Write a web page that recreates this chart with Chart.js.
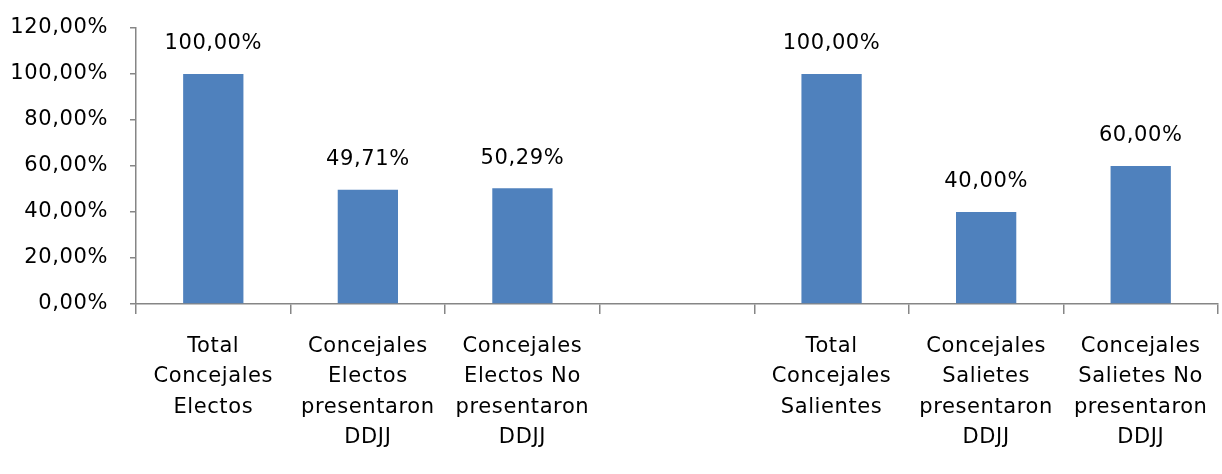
<!DOCTYPE html>
<html><head><meta charset="utf-8">
<script src="https://cdn.jsdelivr.net/npm/chart.js@4/dist/chart.umd.min.js"></script>
<style>html,body{margin:0;padding:0;background:#fff}#wrap{width:1222px;height:474px}</style>
</head><body><div id="wrap"><canvas id="c" width="1222" height="474"></canvas></div>
<script>
const categories = [
  ["Total","Concejales","Electos"],
  ["Concejales","Electos","presentaron","DDJJ"],
  ["Concejales","Electos No","presentaron","DDJJ"],
  "",
  ["Total","Concejales","Salientes"],
  ["Concejales","Salietes","presentaron","DDJJ"],
  ["Concejales","Salietes No","presentaron","DDJJ"]
];
const values = [100.00, 49.71, 50.29, null, 100.00, 40.00, 60.00];
const yTicks = [0, 20, 40, 60, 80, 100, 120];

const fmt = v => v.toFixed(2).replace('.', ',') + '%';
const FONT = "'DejaVu Sans', sans-serif";

const spacingPlugin = {
  id: 'spacing',
  beforeLayout(chart) { try { chart.ctx.letterSpacing = '0.6px'; } catch (e) {} }
};

const labelPlugin = {
  id: 'barLabels',
  afterDatasetsDraw(chart) {
    const ctx = chart.ctx;
    const meta = chart.getDatasetMeta(0);
    ctx.save();
    ctx.font = "21px " + FONT;
    ctx.fillStyle = '#000';
    ctx.textAlign = 'center';
    ctx.textBaseline = 'middle';
    meta.data.forEach((bar, i) => {
      const v = values[i];
      if (v === null || v === undefined) return;
      ctx.fillText(fmt(v), bar.x, bar.y - 30);
    });
    ctx.restore();
  }
};

new Chart(document.getElementById('c'), {
  type: 'bar',
  data: {
    labels: categories,
    datasets: [{
      data: values,
      backgroundColor: '#4F81BD',
      borderWidth: 0,
      categoryPercentage: 1,
      barPercentage: 0.39
    }]
  },
  options: {
    responsive: false,
    animation: false,
    devicePixelRatio: 1,
    layout: { padding: { top: 28, right: 4, left: 0, bottom: 0 } },
    plugins: { legend: { display: false }, tooltip: { enabled: false } },
    scales: {
      x: {
        offset: true,
        grid: { offset: true, drawOnChartArea: false, drawTicks: true, tickLength: 10, color: '#868686', lineWidth: 1.5 },
        border: { color: '#868686', width: 1.5 },
        ticks: { color: '#000', font: { family: FONT, size: 21, lineHeight: 1.43 }, padding: 18, maxRotation: 0, autoSkip: false },
        afterFit(s) { s.height = 170; s.paddingLeft = 0; s.paddingRight = 0; }
      },
      y: {
        min: 0, max: 120,
        afterBuildTicks(s) { s.ticks = yTicks.map(v => ({ value: v })); },
        grid: { drawOnChartArea: false, drawTicks: true, tickLength: 6, color: '#868686', lineWidth: 1.5 },
        border: { color: '#868686', width: 1.5 },
        ticks: { color: '#000', font: { family: FONT, size: 21 }, padding: 22, callback: v => fmt(v) },
        afterFit(s) { s.width = 136; s.paddingTop = 0; s.paddingBottom = 0; }
      }
    }
  },
  plugins: [spacingPlugin, labelPlugin]
});
</script>
</body></html>
